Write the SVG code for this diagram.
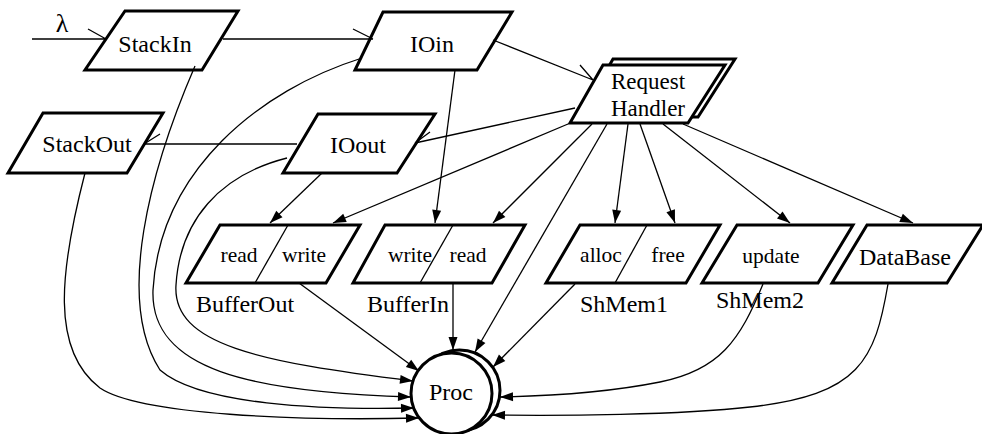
<svg xmlns="http://www.w3.org/2000/svg" width="982" height="434" viewBox="0 0 982 434">
<style>
.n{fill:#fff;stroke:#000;stroke-width:3;stroke-linejoin:miter}
.d{fill:none;stroke:#000;stroke-width:1.3}
.e{fill:none;stroke:#000;stroke-width:1.3}
.a{marker-end:url(#ah)}
text{font-family:"Liberation Serif","Times New Roman",serif;fill:#000}
.t{font-size:24px;text-anchor:middle}
.r{font-size:23px;text-anchor:middle}
.p{font-size:21.5px;text-anchor:middle}
</style>
<defs>
<marker id="ah" markerUnits="userSpaceOnUse" markerWidth="14" markerHeight="10" refX="13" refY="4.5" orient="auto" overflow="visible">
<path d="M0,0 L13,4.5 L0,9 z" fill="#000"/>
</marker>
</defs>
<g id="StackIn"><polygon class="n" points="125,11 238,11 202,70 85,70"/><text class="t" x="155" y="52">StackIn</text></g>
<g id="IOin"><polygon class="n" points="383,12 512,12 477,70 355,70"/><text class="t" x="432" y="52">IOin</text></g>
<g id="RequestHandler"><polygon class="n" points="613,59 735,59 698,117 580,117"/><polygon class="n" points="603,65 725,65 688,123 570,123"/><text class="r" x="648" y="89">Request</text><text class="r" x="648" y="116">Handler</text></g>
<g id="StackOut"><polygon class="n" points="43,113 163,113 127,173 8,173"/><text class="t" x="87" y="152">StackOut</text></g>
<g id="IOout"><polygon class="n" points="318,114 435,114 397,173 283,173"/><text class="t" x="358" y="153">IOout</text></g>
<g id="BufferOut"><polygon class="n" points="220,225 360,225 326,283 186,283"/><line class="d" x1="288" y1="225" x2="255" y2="283"/><text class="p" x="239" y="262">read</text><text class="p" x="304" y="262">write</text><text class="t" x="245" y="312">BufferOut</text></g>
<g id="BufferIn"><polygon class="n" points="385,225 525,225 492,283 353,283"/><line class="d" x1="453" y1="225" x2="420" y2="283"/><text class="p" x="410" y="262">write</text><text class="p" x="468" y="262">read</text><text class="t" x="408" y="312">BufferIn</text></g>
<g id="ShMem1"><polygon class="n" points="580,225 720,225 686,283 546,283"/><line class="d" x1="647" y1="225" x2="615" y2="283"/><text class="p" x="601" y="262">alloc</text><text class="p" x="668" y="262">free</text><text class="t" x="624" y="312">ShMem1</text></g>
<g id="ShMem2"><polygon class="n" points="737,225 853,225 818,283 702,283"/><text class="p" x="771" y="263">update</text><text class="t" x="760" y="308">ShMem2</text></g>
<g id="DataBase"><polygon class="n" points="867,225 983,225 947,283 832,283"/><text class="t" x="905" y="265">DataBase</text></g>
<g id="Proc"><circle class="n" cx="459.5" cy="390.5" r="40.5"/><circle class="n" cx="451.5" cy="393.5" r="40.5"/><text class="t" x="451" y="400">Proc</text></g>
<text x="62" y="32" style="font-size:26px;text-anchor:middle">λ</text>
<g id="connectors">
<path class="e" d="M32,39 L106,39 M88,29 L106,39"/>
<path class="e" d="M223,39 L373,39 M353,29 L373,39"/>
<path class="e" d="M493,40 L593,80 M580,65 L593,80"/>
<path class="e" d="M575,108 L415,143 M430,132 L415,143"/>
<path class="e" d="M297,144 L144,144 M160,134 L144,144"/>
<path class="e a" d="M455,70 L435,223"/>
<path class="e a" d="M322,173 L270,223"/>
<path class="e a" d="M568,124 L333,223"/>
<path class="e a" d="M592,124 L493,223"/>
<path class="e a" d="M607,124 L475,352"/>
<path class="e a" d="M628,124 L615,223"/>
<path class="e a" d="M640,124 L675,223"/>
<path class="e a" d="M663,124 L790,223"/>
<path class="e a" d="M683,124 L913,223"/>
<path class="e a" d="M299,283 L419,371"/>
<path class="e a" d="M453,283 L453,350"/>
<path class="e a" d="M575,284 L493,367"/>
<path class="e a" d="M763,284 C740,340 720,370 660,382 C610,392 550,396 500,397"/>
<path class="e a" d="M888,284 C875,360 860,395 750,407 C680,415 560,416 492,415"/>
<path class="e a" d="M85,173 C60,270 50,350 100,388 C140,415 300,421 419,418"/>
<path class="e a" d="M195,66 C150,170 115,300 160,370 C200,405 320,410 414,408"/>
<path class="e a" d="M362,58 C260,90 160,170 153,290 C150,370 250,392 411,397"/>
<path class="e a" d="M287,158 C220,175 180,220 176,285 C172,345 260,362 413,381"/>
</g>
</svg>
